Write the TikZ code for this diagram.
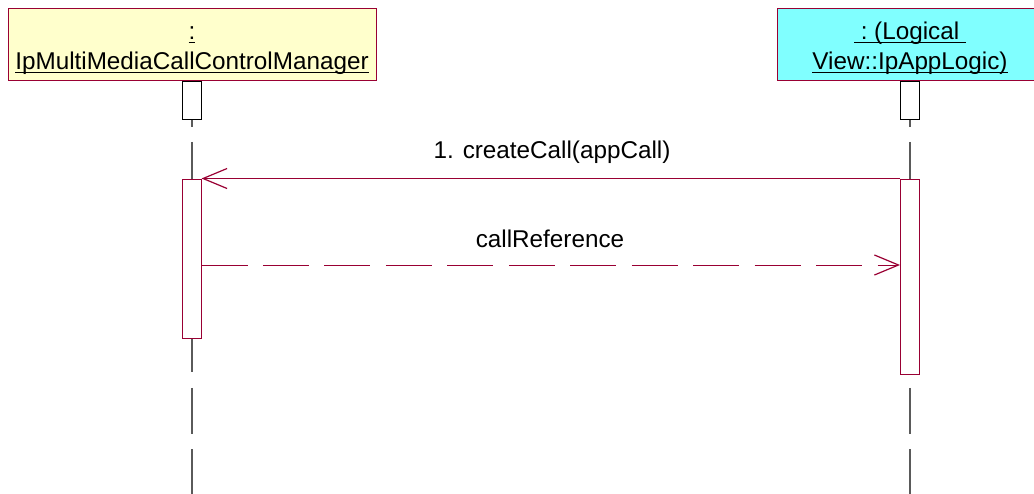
\documentclass[tikz,border=0pt]{standalone}
\usepackage{fontspec}
\setmainfont{Liberation Sans}
\usepackage{tikz}
\usetikzlibrary{arrows.meta,positioning,calc}

\newcommand{\objul}[1]{\setbox0\hbox{#1}\leavevmode\rlap{\rule[-3.2pt]{\wd0}{1.2pt}}\box0}

\definecolor{rosered}{RGB}{153,0,51}
\definecolor{mgrfill}{RGB}{255,255,204}
\definecolor{appfill}{RGB}{128,255,255}
\definecolor{lifegray}{RGB}{90,90,90}

\tikzset{
    objbox/.style={draw=rosered, line width=0.75pt, inner sep=0pt, align=center,
        minimum height=54pt, font=\fontsize{18.2}{22.5}\selectfont},
    topbox/.style={draw=black, fill=white, line width=0.75pt, inner sep=0pt,
        minimum width=14.25pt, minimum height=28.5pt},
    actbox/.style={draw=rosered, fill=white, line width=0.75pt, inner sep=0pt,
        minimum width=14.25pt},
    lifeline/.style={draw=lifegray, line width=1pt, dash pattern=on 34.5pt off 11.6pt},
    msg/.style={draw=rosered, line width=0.75pt,
        -{Straight Barb[length=18pt,width=15pt,line width=0.9pt]}},
    retmsg/.style={msg, dash pattern=on 34.5pt off 11.6pt},
    msglabel/.style={inner sep=0pt, font=\fontsize{18.2}{23}\selectfont}
}

\begin{document}
\begin{tikzpicture}[x=0.75pt,y=-0.75pt]

    % Frame
    \useasboundingbox (0,0) rectangle (1034,493);
    \clip (0,0) rectangle (1034,493);

    % Objects
    \node[objbox, fill=mgrfill, minimum width=276pt] (mgr) at (192,44)
        {\rule{0pt}{19pt}\objul{:}\\\objul{IpMultiMediaCallControlManager}};
    \node[objbox, fill=appfill, minimum width=199.5pt] (app) at (910,44)
        {\rule{0pt}{19pt}\objul{\ :\ (Logical\ }\\\objul{View::IpAppLogic)}};

    % Lifelines
    \coordinate (mgrend) at (192,496);
    \coordinate (append) at (910,496);
    \draw[lifeline] (mgr.south) -- (mgrend);
    \draw[lifeline] (app.south) -- (append);

    % Heads of the lifelines
    \node[topbox, below=0pt of mgr] (mgrtop) {};
    \node[topbox, below=0pt of app] (apptop) {};

    % Activations
    \node[actbox, minimum height=119.25pt] (mgract) at (191.5,258.5) {};
    \node[actbox, minimum height=146.25pt] (appact) at (910,276.5) {};

    % Messages
    \draw[msg] (appact.north west) -- (mgract.north east);
    \node[msglabel] (calllbl) at (552,152) {1. createCall(appCall)};

    \coordinate (ret) at (0,265);
    \draw[retmsg] (mgract.east |- ret) -- (appact.west |- ret);
    \node[msglabel] (retlbl) at (550,239) {callReference};

\end{tikzpicture}
\end{document}
